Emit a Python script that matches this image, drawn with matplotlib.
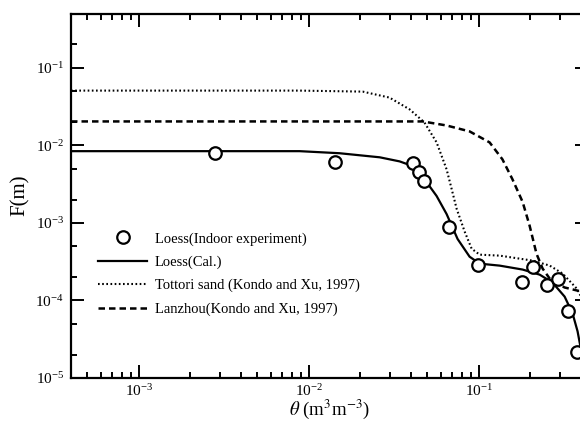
import matplotlib
matplotlib.use("Agg")
import matplotlib.pyplot as plt
from matplotlib.ticker import LogLocator, NullFormatter

# measured points, loess indoor experiment
theta_obs = [0.0028, 0.0142, 0.0409, 0.0444, 0.048, 0.0667, 0.0986,
             0.179, 0.208, 0.251, 0.292, 0.334, 0.377]
f_obs = [7.9e-3, 6.05e-3, 5.9e-3, 4.5e-3, 3.45e-3, 8.9e-4, 2.9e-4,
         1.75e-4, 2.73e-4, 1.56e-4, 1.91e-4, 7.2e-5, 2.15e-5]

# calculated loess curve
theta_cal = [4e-4, 2.3e-3, 8.85e-3, 0.0152, 0.0262, 0.0343, 0.0409, 0.048,
             0.0566, 0.0648, 0.0752, 0.0885, 0.1014, 0.133, 0.1815, 0.2286,
             0.272, 0.3206, 0.357, 0.382, 0.409]
f_cal = [8.4e-3, 8.4e-3, 8.4e-3, 7.9e-3, 7.0e-3, 6.2e-3, 5.4e-3, 3.66e-3,
         2.22e-3, 1.30e-3, 6.2e-4, 3.66e-4, 2.98e-4, 2.81e-4, 2.5e-4, 2.15e-4,
         1.70e-4, 1.12e-4, 6.8e-5, 4.0e-5, 1.8e-5]

# Tottori sand (Kondo and Xu, 1997)
theta_tot = [4e-4, 8.85e-3, 0.0208, 0.0299, 0.0393, 0.048, 0.0566, 0.0648,
             0.0694, 0.0743, 0.0828, 0.091, 0.1014, 0.133, 0.208, 0.262,
             0.312, 0.377, 0.421]
f_tot = [0.0507, 0.0507, 0.0492, 0.0412, 0.029, 0.0197, 0.0109, 4.9e-3,
         2.73e-3, 1.51e-3, 7.7e-4, 4.64e-4, 3.89e-4, 3.78e-4, 3.26e-4,
         2.81e-4, 2.22e-4, 1.43e-4, 9.2e-5]

# Lanzhou (Kondo and Xu, 1997)
theta_lz = [4e-4, 0.0343, 0.0469, 0.0648, 0.0885, 0.116, 0.138, 0.158,
            0.1815, 0.1995, 0.219, 0.238, 0.262, 0.32, 0.421]
f_lz = [0.0203, 0.0203, 0.0203, 0.018, 0.0151, 0.0109, 6.6e-3, 3.66e-3,
        1.86e-3, 9.2e-4, 4.0e-4, 2.57e-4, 1.91e-4, 1.47e-4, 1.27e-4]


def main():
    plt.rcParams["font.family"] = "serif"
    plt.rcParams["font.serif"] = ["Liberation Serif", "DejaVu Serif"]
    plt.rcParams["mathtext.fontset"] = "stix"

    fig = plt.figure(figsize=(5.8, 4.25), dpi=100)
    # right edge runs a little past the figure border
    ax = fig.add_axes([71 / 580, 47 / 425, 517 / 580, 364.5 / 425])

    ax.plot(theta_obs, f_obs, "o", ms=9, mfc="white", mec="black", mew=1.6,
            label="Loess(Indoor experiment)", zorder=5)
    ax.plot(theta_cal, f_cal, "-", color="black", lw=1.6, label="Loess(Cal.)")
    ax.plot(theta_tot, f_tot, color="black", lw=1.5, ls=(0, (0.8, 1.2)),
            label="Tottori sand (Kondo and Xu, 1997)")
    ax.plot(theta_lz, f_lz, color="black", lw=1.8, ls=(0, (2.6, 1.6)),
            label="Lanzhou(Kondo and Xu, 1997)")

    ax.set_xscale("log")
    ax.set_yscale("log")
    ax.set_xlim(4e-4, 0.44)
    ax.set_ylim(1e-5, 0.5)

    ax.xaxis.set_major_locator(LogLocator(base=10, numticks=10))
    ax.xaxis.set_minor_locator(LogLocator(base=10, subs=range(2, 10), numticks=20))
    ax.yaxis.set_major_locator(LogLocator(base=10, numticks=10))
    ax.yaxis.set_minor_locator(LogLocator(base=10, subs=(2, 5), numticks=20))
    ax.xaxis.set_minor_formatter(NullFormatter())
    ax.yaxis.set_minor_formatter(NullFormatter())

    ax.tick_params(which="both", direction="in", top=True, right=True,
                   width=1.4, labelsize=11)
    ax.tick_params(which="major", length=9.4, pad=5)
    ax.tick_params(axis="x", which="major", pad=3.5)
    ax.tick_params(which="minor", length=4.3)
    for s in ax.spines.values():
        s.set_linewidth(1.6)

    ax.set_xlabel(r"$\theta$ (m$^3$m$^{-3}$)", fontsize=13.5, labelpad=-0.5)
    ax.set_ylabel("F(m)", fontsize=15, labelpad=4)

    ax.legend(loc="upper left", bbox_to_anchor=(0.052, 0.40), frameon=False,
              fontsize=10.5, handlelength=3.4, handletextpad=0.5,
              labelspacing=0.68, borderpad=0, borderaxespad=0)

    fig.savefig("out.png", dpi=100)


if __name__ == "__main__":
    main()
